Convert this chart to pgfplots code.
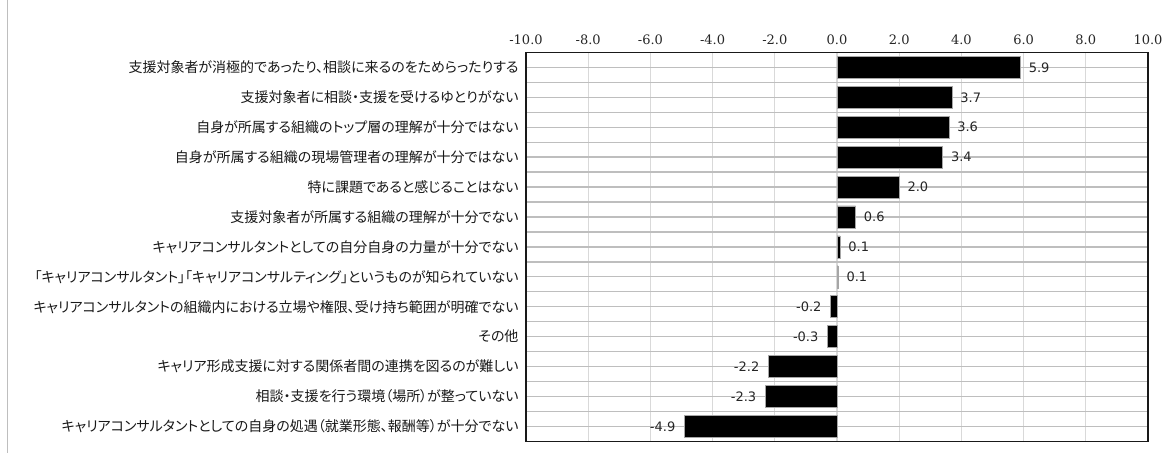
\documentclass[border=0pt]{standalone}
\usepackage{fontspec}
\usepackage{pgfplots}
\pgfplotsset{compat=1.18}
\usepackage{pgfplotstable}
\setmainfont[RawFeature=+palt]{Noto Sans CJK JP}
\newfontfamily\numfont{DejaVu Sans}
\newfontfamily\tickfont{DejaVu Serif}
\definecolor{vgrid}{RGB}{217,217,217}
\definecolor{hgrid}{RGB}{190,190,190}

\pgfplotstableread{
i v lab
0 5.9 5.9
1 3.7 3.7
2 3.6 3.6
3 3.4 3.4
4 2.0 2.0
5 0.6 0.6
6 0.1 0.1
7 0.04 0.1
}\pos
\pgfplotstableread{
i v lab
8 -0.2 -0.2
9 -0.3 -0.3
10 -2.2 -2.2
11 -2.3 -2.3
12 -4.9 -4.9
}\neg

\begin{document}
\begin{tikzpicture}
\path[fill=white] (0,0) rectangle (1176bp,-453bp);
\draw[hgrid, line width=0.8bp] (7bp,0) -- (7bp,-453bp);
\begin{axis}[
  at={(526bp,-52bp)}, anchor=north west,
  scale only axis, width=622bp, height=389bp,
  xmin=-10, xmax=10, ymin=-0.5, ymax=12.5,
  y dir=reverse,
  xtick={-10,-8,...,10},
  xticklabels={-10.0,-8.0,-6.0,-4.0,-2.0,0.0,2.0,4.0,6.0,8.0,10.0},
  xticklabel pos=top,
  xticklabel style={font=\tickfont\fontsize{13bp}{15bp}\selectfont, text=black!85, yshift=4bp},
  ytick={0,...,12},
  minor ytick={-0.5,0.5,...,12.5},
  yticklabels={
    支援対象者が消極的であったり、相談に来るのをためらったりする,
    支援対象者に相談・支援を受けるゆとりがない,
    自身が所属する組織のトップ層の理解が十分ではない,
    自身が所属する組織の現場管理者の理解が十分ではない,
    特に課題であると感じることはない,
    支援対象者が所属する組織の理解が十分でない,
    キャリアコンサルタントとしての自分自身の力量が十分でない,
    「キャリアコンサルタント」「キャリアコンサルティング」というものが知られていない,
    キャリアコンサルタントの組織内における立場や権限、受け持ち範囲が明確でない,
    その他,
    キャリア形成支援に対する関係者間の連携を図るのが難しい,
    相談・支援を行う環境（場所）が整っていない,
    キャリアコンサルタントとしての自身の処遇（就業形態、報酬等）が十分でない},
  yticklabel style={font=\fontsize{14bp}{16bp}\selectfont, text=black!90, xshift=-4bp},
  tick style={draw=none},
  major tick length=0pt, minor tick length=0pt,
  xmajorgrids, ymajorgrids, yminorgrids,
  x grid style={vgrid, line width=1.3bp},
  y grid style={hgrid, line width=1.3bp},
  minor y grid style={hgrid, line width=1.3bp},
  axis line style={black!90, line width=1.5bp},
  clip=false,
]
\addplot[xbar, bar shift=0pt, bar width=22bp, fill=black, draw=black!35, line width=0.6bp,
  point meta=explicit symbolic,
  nodes near coords,
  nodes near coords style={anchor=west, font=\numfont\fontsize{13bp}{15bp}\selectfont, text=black!85, inner sep=2bp, xshift=6bp}]
  table[x=v, y=i, meta=lab] {\pos};
\addplot[xbar, bar shift=0pt, bar width=22bp, fill=black, draw=black!35, line width=0.6bp,
  point meta=explicit symbolic,
  nodes near coords,
  nodes near coords style={anchor=east, font=\numfont\fontsize{13bp}{15bp}\selectfont, text=black!85, inner sep=2bp, xshift=-7bp}]
  table[x=v, y=i, meta=lab] {\neg};
\end{axis}
\end{tikzpicture}
\end{document}
